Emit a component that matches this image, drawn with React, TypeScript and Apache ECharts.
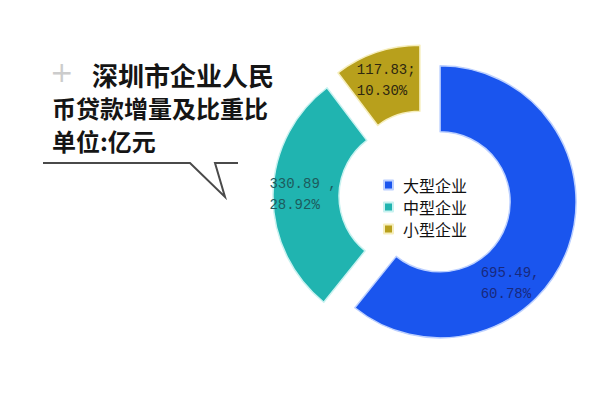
import React, { useEffect, useRef } from "react";
import * as echarts from "echarts";

const categories = ["大型企业", "中型企业", "小型企业"];
const values = [695.49, 330.89, 117.83];
const separators = [",", " ,", ";"];
const colors = ["#1a55ee", "#20b4b0", "#b8a01c"];
const borderColors = ["#bcd0ff", "#c8f2f0", "#f6eebc"];
const labelColors = ["#18297e", "#1d5b5d", "#2e2710"];
const titleLines = ["深圳市企业人民", "币贷款增量及比重比", "单位:亿元"];

export default function App() {
  const ref = useRef<HTMLDivElement>(null);
  useEffect(() => {
    if (!ref.current) return;
    const chart = echarts.init(ref.current, null, { renderer: "svg" });
    chart.setOption({
      animation: false,
      backgroundColor: "#ffffff",
      title: {
        left: 52,
        top: 58,
        padding: 0,
        text: "{s| }{a|" + titleLines[0] + "}\n{b|" + titleLines[1] + "}\n{b|" + titleLines[2] + "}",
        textStyle: {
          rich: {
            s: { width: 40, fontSize: 24, lineHeight: 33 },
            a: { fontSize: 26, color: "#151515", fontWeight: "bold", lineHeight: 33, fontFamily: "Noto Sans CJK SC" },
            b: { fontSize: 24, color: "#151515", fontWeight: "bold", lineHeight: 33, fontFamily: "Noto Sans CJK SC" },
          },
        },
      },
      legend: {
        orient: "vertical",
        left: 383,
        top: 177,
        padding: 0,
        itemWidth: 9,
        itemHeight: 9,
        itemGap: 6,
        icon: "rect",
        selectedMode: false,
        textStyle: {
          fontSize: 16,
          color: "#111",
          fontFamily: "Noto Sans CJK SC",
          padding: [0, 0, 0, 5],
        },
        data: categories,
      },
      graphic: [
        {
          type: "text",
          x: 50,
          y: 58,
          silent: true,
          style: { text: "+", fontSize: 28, fill: "#cccccc", fontFamily: "DejaVu Sans" },
        },
        {
          type: "polyline",
          shape: { points: [[43, 163], [190, 163], [225, 197], [215, 163], [238, 163]] },
          style: { stroke: "#4a4a4a", lineWidth: 2, fill: "none" },
          silent: true,
        },
      ],
      series: [
        {
          type: "pie",
          center: [425, 196.5],
          radius: [70, 136],
          startAngle: 90,
          clockwise: true,
          selectedMode: "multiple",
          selectedOffset: 16,
          avoidLabelOverlap: false,
          emphasis: { disabled: true },
          label: {
            show: true,
            position: "inside",
            formatter: (p: any) =>
              "{t|" + p.value.toFixed(2) + separators[p.dataIndex] + "}\n{t|" + p.percent.toFixed(2) + "%}",
            rich: {
              t: { fontFamily: "Liberation Mono", fontSize: 14, lineHeight: 21, align: "left" },
            },
          },
          labelLayout: (params: any) => (params.dataIndex === 0 ? { dx: -30, dy: 46 } : {}),
          labelLine: { show: false },
          data: categories.map((name, i) => ({
            name,
            value: values[i],
            selected: true,
            itemStyle: { color: colors[i], borderColor: borderColors[i], borderWidth: 1.5 },
            select: { itemStyle: { color: colors[i], borderColor: borderColors[i], borderWidth: 1.5 } },
            label: { rich: { t: { color: labelColors[i], fontFamily: "Liberation Mono", fontSize: 14, lineHeight: 21, align: "left" } } },
          })),
        },
      ],
    });
    return () => chart.dispose();
  }, []);
  return (
    <div
      ref={ref}
      style={{ position: "absolute", left: 0, top: 0, width: 600, height: 400 }}
    />
  );
}
